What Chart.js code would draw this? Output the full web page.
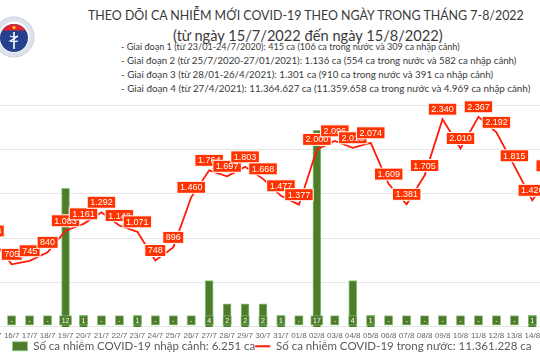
<!DOCTYPE html>
<html>
<head>
<meta charset="utf-8">
<title>Theo dõi ca nhiễm mới COVID-19</title>
<script src="https://cdn.jsdelivr.net/npm/chart.js@4.4.0/dist/chart.umd.min.js"></script>
<style>
  body { margin:0; width:540px; height:360px; overflow:hidden; position:relative; background:#fff; font-family:Lato, "Liberation Sans", sans-serif; }
  .hd { position:absolute; white-space:nowrap; color:#3a3a3a; line-height:1; }
  #logo { position:absolute; left:-7px; top:16px; width:42px; height:42px; }
  #logo svg { display:block; }
  #chartBox { position:absolute; left:-18px; top:100px; width:580px; height:262px; }
</style>
</head>
<body>
<!-- logo Bo Y te (simplified) -->
<div id="logo">
<svg width="42" height="42" viewBox="0 0 42 42">
  <circle cx="21" cy="21" r="20" fill="#fff" stroke="#c3c9dc" stroke-width="1"/>
  <circle cx="21" cy="21" r="17.5" fill="none" stroke="#dde1ec" stroke-width="4"/>
  <circle cx="21" cy="22" r="14" fill="#25418e"/>
  <path d="M9.2 14.5 A14 14 0 0 1 32.8 14.5 Z" fill="#e3262d"/>
  <circle cx="21" cy="11.5" r="1.5" fill="#f7d417"/>
  <line x1="21" y1="16" x2="21" y2="33" stroke="#fff" stroke-width="1.6"/>
  <path d="M17 20 q4 2 8 0 q-4 3 -8 5 q4 1 8 0" fill="none" stroke="#fff" stroke-width="1.2"/>
</svg>
</div>

<div class="hd" id="t1" style="left:88px;top:10px;font-size:16px">THEO DÕI CA NHIỄM MỚI COVID-19 THEO NGÀY TRONG THÁNG 7-8/2022</div>
<div class="hd" id="t2" style="left:173px;top:29px;font-size:16px">(từ ngày 15/7/2022 đến ngày 15/8/2022)</div>
<div class="hd" id="g1" style="left:121px;top:42px;font-size:11px">- Giai đoạn 1 (từ 23/01-24/7/2020): 415 ca (106 ca trong nước và 309 ca nhập cảnh)</div>
<div class="hd" id="g2" style="left:121px;top:56px;font-size:11px">- Giai đoạn 2 (từ 25/7/2020-27/01/2021): 1.136 ca (554 ca trong nước và 582 ca nhập cảnh)</div>
<div class="hd" id="g3" style="left:121px;top:70px;font-size:11px">- Giai đoạn 3 (từ 28/01-26/4/2021): 1.301 ca (910 ca trong nước và 391 ca nhập cảnh)</div>
<div class="hd" id="g4" style="left:121px;top:84px;font-size:11px">- Giai đoạn 4 (từ 27/4/2021): 11.364.627 ca (11.359.658 ca trong nước và 4.969 ca nhập cảnh)</div>

<div id="chartBox"><canvas id="chart"></canvas></div>

<script>
// ngay (15/7 - 15/8)
const dates = ['15/7','16/7','17/7','18/7','19/7','20/7','21/7','22/7','23/7','24/7','25/7','26/7','27/7','28/7','29/7','30/7','31/7',
               '01/8','02/8','03/8','04/8','05/8','06/8','07/8','08/8','09/8','10/8','11/8','12/8','13/8','14/8','15/8'];
// so ca nhap canh moi ngay
const importCases = [0,0,0,0,12,1,0,0,1,0,0,0,4,2,2,2,1,
                     0,17,0,4,1,0,0,0,0,0,0,0,0,1,0];
// so ca trong nuoc moi ngay
const domesticCases = [968,705,745,840,1083,1161,1292,1142,1071,748,896,1460,1764,1697,1803,1668,1477,
                       1377,2000,2096,2018,2074,1609,1381,1705,2340,2010,2367,2192,1815,1426,1702];

const importLabel = 'Số ca nhiễm COVID-19 nhập cảnh: 6.251 ca';
const domesticLabel = 'Số ca nhiễm COVID-19 trong nước: 11.361.228 ca';

// 1292 -> "1.292"
const fmt = v => String(v).replace(/\B(?=(\d{3})+(?!\d))/g, '.');

// stretch header lines to the widths they have in the original
const fitText = (id, width) => {
    const el = document.getElementById(id);
    const w = el.getBoundingClientRect().width;
    el.style.fontSize = parseFloat(getComputedStyle(el).fontSize) * width / w + 'px';
};
fitText('t1', 436);
fitText('t2', 270);
fitText('g1', 339);
fitText('g2', 396);
fitText('g3', 373);
fitText('g4', 410);

// value boxes: green ones at the foot of the bars, red ones above the line
const boxLabels = {
    id: 'boxLabels',
    afterDatasetsDraw(chart) {
        const ctx = chart.ctx;
        const base = chart.scales.yBar.getPixelForValue(0);
        ctx.save();
        ctx.textAlign = 'center';
        ctx.textBaseline = 'middle';

        ctx.font = '7px "Liberation Sans"';
        chart.getDatasetMeta(0).data.forEach((bar, i) => {
            const txt = importCases[i] ? String(importCases[i]) : '-';
            const w = Math.max(8, ctx.measureText(txt).width + 4);
            ctx.fillStyle = '#4e7b2a';
            ctx.fillRect(bar.x - w / 2, base - 11, w, 9);
            ctx.strokeStyle = '#8bc97f';
            ctx.lineWidth = 0.6;
            ctx.strokeRect(bar.x - w / 2, base - 11, w, 9);
            ctx.fillStyle = '#fff';
            ctx.fillText(txt, bar.x, base - 6.3);
        });

        ctx.font = '9px "Liberation Sans"';
        chart.getDatasetMeta(1).data.forEach((pt, i) => {
            const txt = fmt(domesticCases[i]);
            const w = ctx.measureText(txt).width + 6;
            const y = pt.y - 10;
            ctx.fillStyle = '#ff3300';
            ctx.fillRect(pt.x - w / 2, y - 6, w, 12);
            ctx.strokeStyle = '#fff';
            ctx.lineWidth = 1;
            ctx.strokeRect(pt.x - w / 2, y - 6, w, 12);
            ctx.fillStyle = '#fff';
            ctx.fillText(txt, pt.x, y + 0.5);
        });
        ctx.restore();
    }
};

Chart.defaults.font.family = '"Liberation Sans", Arial, sans-serif';

new Chart(document.getElementById('chart'), {
    data: {
        labels: dates,
        datasets: [
            {
                type: 'bar',
                label: importLabel,
                data: importCases,
                yAxisID: 'yBar',
                backgroundColor: '#4f7b2b',
                borderColor: '#86c97c',
                borderWidth: { left: 1, right: 1, top: 1, bottom: 0 },
                barThickness: 8,
                pointStyle: 'rect',
                order: 1
            },
            {
                type: 'line',
                label: domesticLabel,
                data: domesticCases,
                yAxisID: 'yLine',
                borderColor: '#ff1a0a',
                backgroundColor: '#ff1a0a',
                borderWidth: 1.8,
                pointRadius: 0,
                tension: 0,
                pointStyle: 'line',
                order: 0
            }
        ]
    },
    options: {
        responsive: true,
        maintainAspectRatio: false,
        animation: false,
        layout: { padding: { top: 5, left: 0, right: 0, bottom: 0 } },
        plugins: {
            legend: {
                position: 'bottom',
                labels: {
                    usePointStyle: true,
                    pointStyleWidth: 15,
                    boxHeight: 9,
                    padding: 0,
                    color: '#595959',
                    font: { family: 'Lato', size: 11.5 },
                    sort: (a, b) => a.datasetIndex - b.datasetIndex
                }
            },
            tooltip: { enabled: false }
        },
        scales: {
            x: {
                grid: { display: false, drawTicks: false },
                border: { display: false },
                ticks: { font: { size: 8 }, color: '#666', padding: 4, maxRotation: 0, autoSkip: false },
                // pull the legend a little closer to the date labels
                afterFit: scale => { scale.height -= 4; }
            },
            yLine: {
                position: 'left',
                min: 0,
                max: 2500,
                ticks: { stepSize: 500, display: false },
                grid: { color: '#e6e6e6', drawTicks: false },
                border: { display: false }
            },
            yBar: {
                position: 'right',
                min: 0,
                max: 19.2,
                display: false
            }
        }
    },
    plugins: [boxLabels]
});
</script>
</body>
</html>
